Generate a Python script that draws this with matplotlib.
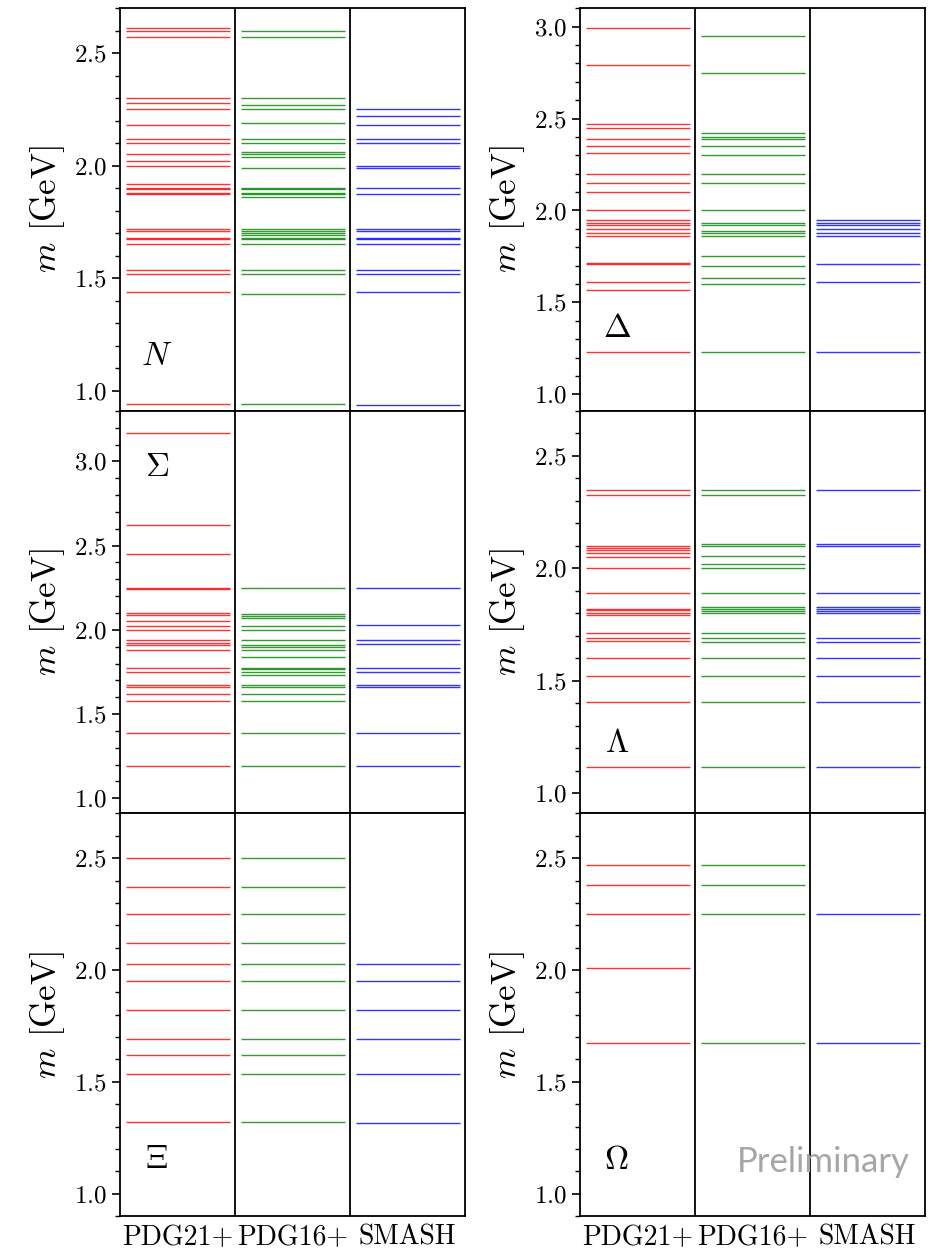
import matplotlib
matplotlib.use('Agg')
import matplotlib.pyplot as plt
from matplotlib.ticker import MultipleLocator

# masas (GeV)
N_PDG21 = [0.939, 1.44, 1.52, 1.535, 1.65, 1.675, 1.68, 1.71, 1.72, 1.875, 1.88, 1.895, 1.90,
           1.92, 2.00, 2.02, 2.05, 2.10, 2.12, 2.18, 2.25, 2.28, 2.30, 2.57, 2.60, 2.61]
N_PDG16 = [0.939, 1.43, 1.52, 1.535, 1.65, 1.675, 1.68, 1.69, 1.70, 1.71, 1.72, 1.86, 1.875,
           1.88, 1.895, 1.90, 1.99, 2.04, 2.05, 2.06, 2.10, 2.12, 2.19, 2.25, 2.27, 2.30, 2.57, 2.60]
N_SMASH = [0.938, 1.44, 1.52, 1.535, 1.65, 1.675, 1.68, 1.71, 1.72, 1.875, 1.90, 1.99, 2.00,
           2.10, 2.12, 2.18, 2.22, 2.25]

D_PDG21 = [1.232, 1.57, 1.61, 1.71, 1.715, 1.86, 1.88, 1.90, 1.92, 1.93, 1.95, 2.00, 2.10,
           2.15, 2.20, 2.31, 2.35, 2.39, 2.45, 2.47, 2.79, 2.99]
D_PDG16 = [1.232, 1.60, 1.63, 1.70, 1.75, 1.86, 1.875, 1.89, 1.92, 1.93, 2.00, 2.15, 2.20,
           2.30, 2.35, 2.39, 2.40, 2.42, 2.75, 2.95]
D_SMASH = [1.232, 1.61, 1.71, 1.86, 1.88, 1.90, 1.92, 1.93, 1.95]

S_PDG21 = [1.19, 1.385, 1.58, 1.62, 1.66, 1.67, 1.75, 1.775, 1.88, 1.91, 1.92, 1.94, 2.00,
           2.025, 2.055, 2.09, 2.10, 2.24, 2.25, 2.45, 2.62, 3.17]
S_PDG16 = [1.19, 1.385, 1.58, 1.62, 1.66, 1.67, 1.73, 1.75, 1.77, 1.775, 1.84, 1.88, 1.90,
           1.91, 1.94, 2.00, 2.025, 2.07, 2.08, 2.095, 2.25]
S_SMASH = [1.19, 1.385, 1.66, 1.67, 1.75, 1.775, 1.915, 1.94, 2.03, 2.25]

L_PDG21 = [1.116, 1.405, 1.52, 1.60, 1.675, 1.69, 1.71, 1.79, 1.80, 1.815, 1.82, 1.89, 2.00,
           2.05, 2.07, 2.08, 2.09, 2.10, 2.325, 2.35]
L_PDG16 = [1.116, 1.405, 1.52, 1.60, 1.67, 1.69, 1.71, 1.80, 1.81, 1.82, 1.83, 1.89, 2.00,
           2.02, 2.055, 2.10, 2.11, 2.325, 2.35]
L_SMASH = [1.116, 1.405, 1.52, 1.60, 1.67, 1.69, 1.80, 1.81, 1.82, 1.83, 1.89, 2.10, 2.11, 2.35]

X_PDG21 = [1.32, 1.535, 1.62, 1.69, 1.82, 1.95, 2.025, 2.12, 2.25, 2.37, 2.50]
X_PDG16 = [1.32, 1.535, 1.62, 1.69, 1.82, 1.95, 2.025, 2.12, 2.25, 2.37, 2.50]
X_SMASH = [1.318, 1.535, 1.69, 1.82, 1.95, 2.025]

O_PDG21 = [1.672, 2.01, 2.25, 2.38, 2.47]
O_PDG16 = [1.672, 2.25, 2.38, 2.47]
O_SMASH = [1.672, 2.25]

listas = ['PDG21+', 'PDG16+', 'SMASH']
colores = ['red', 'green', 'blue']

# (etiqueta, datos, limites y, posicion y de la etiqueta)
paneles = [
    (r'$N$', [N_PDG21, N_PDG16, N_SMASH], (0.91, 2.70), 1.15),
    (r'$\Delta$', [D_PDG21, D_PDG16, D_SMASH], (0.91, 3.10), 1.356),
    (r'$\Sigma$', [S_PDG21, S_PDG16, S_SMASH], (0.91, 3.30), 2.966),
    (r'$\Lambda$', [L_PDG21, L_PDG16, L_SMASH], (0.91, 2.70), 1.22),
    (r'$\Xi$', [X_PDG21, X_PDG16, X_SMASH], (0.90, 2.70), 1.153),
    (r'$\Omega$', [O_PDG21, O_PDG16, O_SMASH], (0.90, 2.70), 1.15),
]

plt.rcParams['font.family'] = 'serif'
plt.rcParams['font.serif'] = ['cmr10']
plt.rcParams['mathtext.fontset'] = 'cm'
plt.rcParams['axes.formatter.use_mathtext'] = True
plt.rcParams['axes.linewidth'] = 1.3

fig, axes = plt.subplots(3, 2, figsize=(9.36, 12.5), dpi=100)
fig.subplots_adjust(left=0.1282, right=0.9883, top=0.9934, bottom=0.0272,
                    hspace=0.0, wspace=0.333)

for k, (nombre, datos, ylim, ylab) in enumerate(paneles):
    ax = axes[k // 2, k % 2]
    for i, masas in enumerate(datos):
        ax.hlines(masas, i + 0.05, i + 0.96, color=colores[i], lw=1.0, alpha=0.8)
    for xv in (1, 2):
        ax.axvline(xv, color='black', lw=1.3)
    ax.set_xlim(0, 3)
    ax.set_ylim(*ylim)
    ax.yaxis.set_major_locator(MultipleLocator(0.5))
    ax.yaxis.set_minor_locator(MultipleLocator(0.1))
    ax.tick_params(axis='y', which='major', length=6, width=1.2, labelsize=18)
    ax.tick_params(axis='y', which='minor', length=3.5, width=1.0)
    ax.set_ylabel(r'$m$ [GeV]', fontsize=25, labelpad=5)
    ax.set_xticks([0.5, 1.5, 2.5])
    ax.tick_params(axis='x', length=0, labelsize=20, pad=6)
    if k // 2 == 2:
        ax.set_xticklabels(listas)
    else:
        ax.set_xticklabels([])
    ax.text(0.32, ylab, nombre, fontsize=24, ha='center', va='center')

axes[2, 1].text(0.704, 0.135, 'Preliminary', transform=axes[2, 1].transAxes,
                fontsize=25, color='#a6a6a6', ha='center', va='center', family='Lato')

plt.savefig('out.png', dpi=100)
plt.close()
